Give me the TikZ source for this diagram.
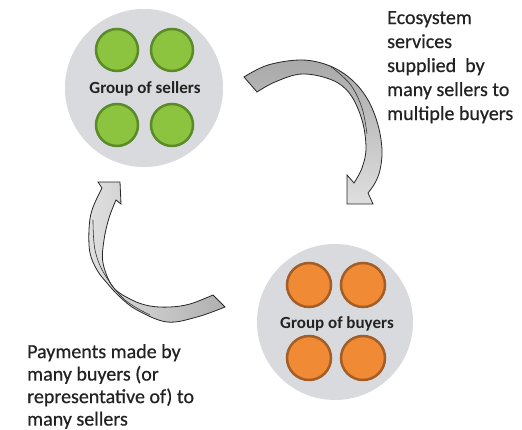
\documentclass[tikz,border=0pt]{standalone}
\usepackage{fontspec}
\setmainfont{Carlito}
\definecolor{bigdisc}{HTML}{D9DADD}
\definecolor{greenfill}{HTML}{8CC43F}
\definecolor{greenline}{HTML}{5A8A2A}
\definecolor{orangefill}{HTML}{F08A35}
\definecolor{orangeline}{HTML}{A35E28}
\definecolor{txt}{HTML}{222222}
\begin{document}
\begin{tikzpicture}[x=1pt,y=1pt,
  group/.style={circle,fill=bigdisc,draw=none,minimum size=158pt,inner sep=0pt},
  seller/.style={circle,fill=greenfill,draw=greenline,line width=2.5pt,minimum size=42pt,inner sep=0pt},
  buyer/.style={circle,fill=orangefill,draw=orangeline,line width=2.5pt,minimum size=44pt,inner sep=0pt},
  glabel/.style={font=\fontsize{17}{18}\selectfont\bfseries,text=txt,inner sep=0pt},
  caption/.style={font=\fontsize{20}{24}\selectfont\addfontfeature{FakeBold=0.5},text=txt,align=left,inner sep=0pt,anchor=north west},
  bandarrow/.style={draw=black!85,line width=0.8pt,line join=miter}
]
\useasboundingbox[fill=white] (0,0) rectangle (522,430);

% group of sellers
\node[group] (sellers) at (144,342) {};
\node[seller] (s1) at (117,380) {};
\node[seller] (s2) at (172,380) {};
\node[seller] (s3) at (117,305) {};
\node[seller] (s4) at (172,305) {};
\node[glabel] (slab) at (145,341) {Group of sellers};

% group of buyers
\node[group,minimum size=156pt] (buyers) at (335,108) {};
\node[buyer] (b1) at (309,145) {};
\node[buyer] (b2) at (363,145) {};
\node[buyer] (b3) at (309,72) {};
\node[buyer] (b4) at (363,72) {};
\node[glabel] (blab) at (337,106) {Group of buyers};

% right curved arrow (sellers -> buyers)
\path[bandarrow,top color=gray!68,bottom color=gray!25]
  (257,338) -- (244,353)
  -- plot[smooth,tension=0.6] coordinates {(244,353) (268,365) (302,370) (330,364) (352,350) (368,330) (378,305) (382,280) (380,260) (375,247) (368,237)}
  -- (373,226) -- (347,226) -- (347,255) -- (354,247)
  -- plot[smooth,tension=0.6] coordinates {(354,247) (362,262) (366,282) (362,310) (350,336) (332,350) (302,356) (275,348) (257,338)}
  -- cycle;
\draw[black!80,line width=0.6pt] plot[smooth,tension=0.6] coordinates {(330,364) (350,346) (362,322) (367,296)};

% left curved arrow (buyers -> sellers)
\path[bandarrow,left color=gray!25,right color=gray!62]
  (120,248) -- (98,248) -- (102,242)
  -- plot[smooth,tension=0.6] coordinates {(102,242) (92,220) (89,200) (90,177) (97,160) (107,147) (120,133) (137,120) (167,108) (197,113) (225,123)}
  -- (213,135)
  -- plot[smooth,tension=0.6] coordinates {(213,135) (190,126) (170,123) (150,124) (132,130) (113,143) (103,167) (104,190) (109,212) (116,230)}
  -- (121,226) -- cycle;
\draw[black!80,line width=0.6pt] plot[smooth,tension=0.6] coordinates {(93,210) (95,180) (105,155) (125,130) (150,115)};

% captions
\node[caption] (cap1) at (387,419) {Ecosystem\\services\\supplied\ \ by\\many sellers to\\multiple buyers};
\node[caption,font=\fontsize{20}{22.5}\selectfont\addfontfeature{FakeBold=0.5}] (cap2) at (27,86) {Payments made by\\many buyers (or\\representative of) to\\many sellers};
\end{tikzpicture}
\end{document}
